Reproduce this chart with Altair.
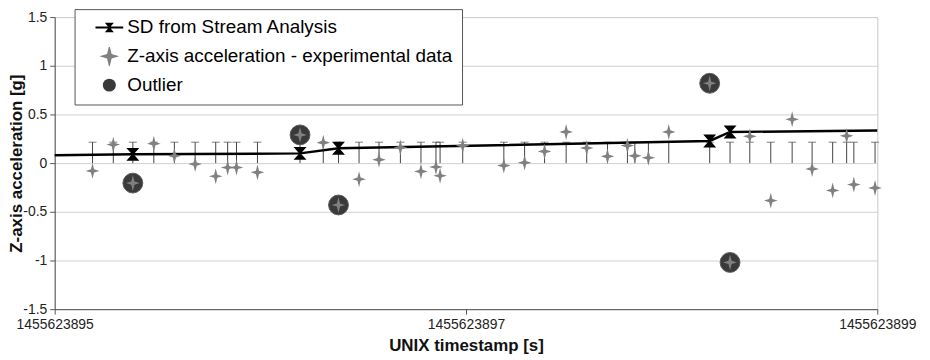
import altair as alt
import pandas as pd

# ---------------- data ----------------
X_MIN = 1455623895
X_MAX = 1455623899
X_TICKS = [1455623895, 1455623897, 1455623899]
Y_MIN = -1.5
Y_MAX = 1.5
Y_TICKS = [-1.5, -1.0, -0.5, 0.0, 0.5, 1.0, 1.5]

SERIES = ["SD from Stream Analysis",
          "Z-axis acceleration - experimental data",
          "Outlier"]

star_times = [
    1455623895.184, 1455623895.285, 1455623895.380, 1455623895.482, 1455623895.582,
    1455623895.683, 1455623895.783, 1455623895.841, 1455623895.884, 1455623895.986,
    1455623896.193, 1455623896.306, 1455623896.380, 1455623896.480, 1455623896.577,
    1455623896.681, 1455623896.781, 1455623896.854, 1455623896.874, 1455623896.984,
    1455623897.184, 1455623897.285, 1455623897.382, 1455623897.487, 1455623897.587,
    1455623897.688, 1455623897.785, 1455623897.821, 1455623897.887, 1455623897.986,
    1455623898.185, 1455623898.284, 1455623898.380, 1455623898.482, 1455623898.586,
    1455623898.683, 1455623898.783, 1455623898.851, 1455623898.886, 1455623898.989,
]
star_values = [
    -0.08, 0.19, -0.205, 0.20, 0.075, -0.01, -0.135, -0.045, -0.045, -0.095,
    0.29, 0.21, -0.43, -0.165, 0.035, 0.16, -0.085, -0.04, -0.13, 0.18,
    -0.025, 0.005, 0.12, 0.32, 0.155, 0.07, 0.18, 0.075, 0.055, 0.32,
    0.82, -1.02, 0.275, -0.385, 0.45, -0.06, -0.28, 0.28, -0.22, -0.255,
]

outlier_times = [1455623895.380, 1455623896.193, 1455623896.380,
                 1455623898.185, 1455623898.284]
outlier_values = [-0.205, 0.29, -0.43, 0.82, -1.02]

sd_times = [1455623895.0, 1455623895.380, 1455623896.193, 1455623896.380,
            1455623898.185, 1455623898.284, 1455623899.0]
sd_values = [0.08, 0.09, 0.10, 0.152, 0.228, 0.32, 0.335]

bar_low = 0.0
bar_high = 0.215

# ---------------- tables ----------------
df_star = pd.DataFrame({"t": star_times, "v": star_values})
df_bar = pd.DataFrame({"t": star_times, "lo": bar_low, "hi": bar_high})
df_out = pd.DataFrame({"t": outlier_times, "v": outlier_values})
df_sd = pd.DataFrame({"t": sd_times, "v": sd_values})
df_sd_marks = df_sd.iloc[1:-1]
df_leg = pd.DataFrame({"series": SERIES, "t": X_MIN - 1, "v": 0.0})

# ---------------- style ----------------
FONT = "Liberation Sans"
STAR = "M0,-1 L0.2,-0.2 L0.86,0 L0.2,0.2 L0,1 L-0.2,0.2 L-0.86,0 L-0.2,-0.2 Z"
HOURGLASS = "M-1,-1 L1,-1 L0.12,0 L1,1 L-1,1 L-0.12,0 Z"
LEG_SD = ("M-0.93,-0.07 L0.93,-0.07 L0.93,0.07 L-0.93,0.07 Z "
          "M-0.3,-0.32 L0.3,-0.32 L0.04,0 L0.3,0.32 L-0.3,0.32 L-0.04,0 Z")

x_scale = alt.Scale(domain=[X_MIN, X_MAX], nice=False, zero=False)
y_scale = alt.Scale(domain=[Y_MIN, Y_MAX], nice=False, zero=False)

x_axis = alt.Axis(values=X_TICKS, format="d", title="UNIX timestamp [s]",
                  grid=False, labelFlush=False, labelOverlap=False,
                  labelFont=FONT, labelFontSize=14, labelColor="#222222",
                  titleFont=FONT, titleFontSize=17, titleFontWeight="bold",
                  titleColor="#111111", titlePadding=7,
                  tickSize=5, tickColor="#555555", domainColor="#555555",
                  labelPadding=3)
y_axis = alt.Axis(values=Y_TICKS, title="Z-axis acceleration [g]",
                  labelExpr="datum.value == 0 ? '0' : (datum.value < 0 ? '-' + format(-datum.value, '~g') : format(datum.value, '~g'))",
                  grid=True, gridColor="#d0d0d0",
                  labelFont=FONT, labelFontSize=14, labelColor="#222222",
                  titleFont=FONT, titleFontSize=17, titleFontWeight="bold",
                  titleColor="#111111", titlePadding=-3,
                  tickSize=5, tickColor="#555555", domainColor="#555555",
                  labelPadding=3)


def X(field="t"):
    return alt.X(f"{field}:Q", scale=x_scale, axis=x_axis)


def Y(field="v"):
    return alt.Y(f"{field}:Q", scale=y_scale, axis=y_axis)


bars = alt.Chart(df_bar).mark_rule(color="#444444", strokeWidth=1).encode(
    x=X(), y=Y("lo"), y2="hi:Q")
caps = alt.Chart(df_bar).mark_tick(color="#444444", orient="horizontal",
                                   size=8, thickness=1).encode(x=X(), y=Y("hi"))
sd_line = alt.Chart(df_sd).mark_line(color="black", strokeWidth=2.5).encode(
    x=X(), y=Y())
outliers = alt.Chart(df_out).mark_point(
    shape="circle", filled=True, size=400, fill="#3a3a3a",
    stroke="#5c5c5c", strokeWidth=1, opacity=1).encode(x=X(), y=Y())
stars = alt.Chart(df_star).mark_point(
    shape=STAR, filled=True, size=256, color="#808080", opacity=1).encode(
    x=X(), y=Y())
sd_marks = alt.Chart(df_sd_marks).mark_point(
    shape=HOURGLASS, filled=True, size=170, color="black", opacity=1).encode(
    x=X(), y=Y())

legend = alt.Legend(title=None, orient="none", legendX=20, legendY=-8,
                    padding=9, fillColor="white", strokeColor="#555555",
                    labelFont=FONT, labelFontSize=19, labelColor="black",
                    labelLimit=0,
                    symbolOffset=11, labelOffset=3, rowPadding=9,
                    clipHeight=19, symbolOpacity=1, symbolStrokeWidth=0)

carrier = alt.Chart(df_leg).mark_point(filled=True, clip=True, opacity=1).encode(
    x=X(), y=Y(),
    color=alt.Color("series:N", scale=alt.Scale(domain=SERIES,
                    range=["black", "#808080", "#3a3a3a"]), legend=legend),
    shape=alt.Shape("series:N", scale=alt.Scale(domain=SERIES,
                    range=[LEG_SD, STAR, "circle"]), legend=legend),
    size=alt.Size("series:N", scale=alt.Scale(domain=SERIES,
                  range=[900, 169, 225]), legend=legend),
)

chart = alt.layer(bars, caps, sd_line, outliers, stars, sd_marks, carrier).properties(
    width=828, height=294,
    autosize=alt.AutoSizeParams(type="none"),
    padding={"left": 47, "top": 8, "right": 45, "bottom": 44},
).configure(font=FONT).configure_view(stroke="#c8c8c8")

chart.save("out.html", embed_options={"renderer": "svg", "actions": False})
